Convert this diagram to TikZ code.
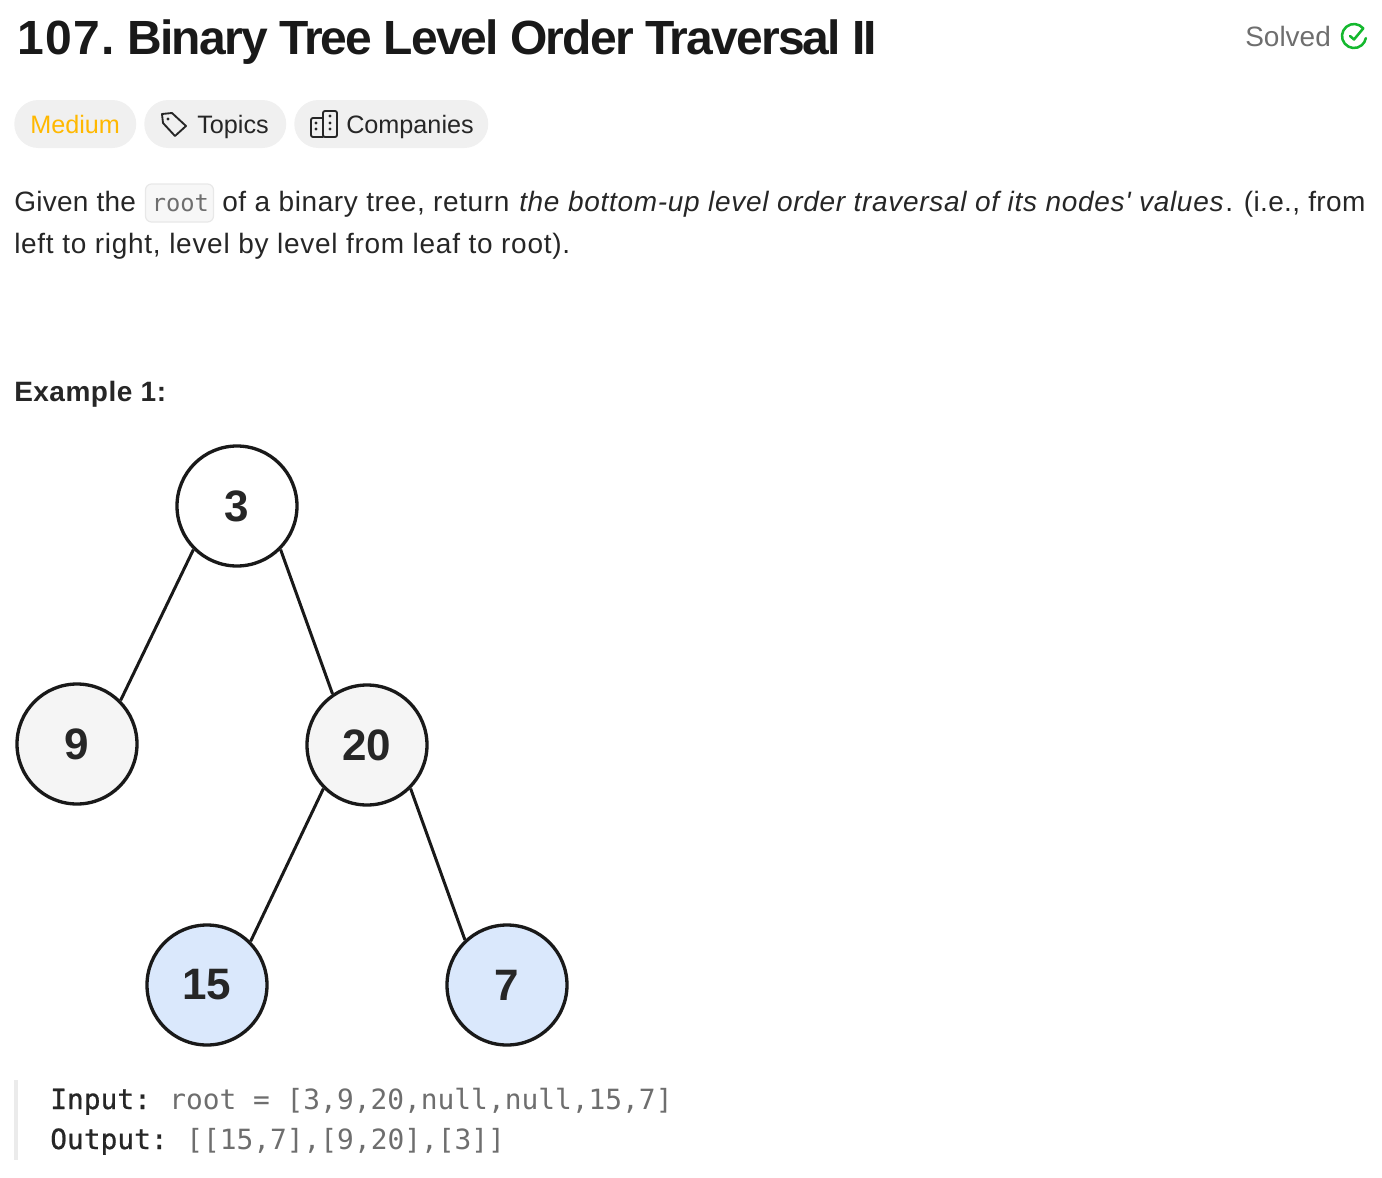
\documentclass[tikz,border=0pt]{standalone}
\usepackage{fontspec}
\setmainfont{Liberation Sans}
\setmonofont{DejaVu Sans Mono}
\newfontfamily\labelfont[FakeBold=0.7]{DejaVu Sans Mono}
\newfontfamily\valuefont{Liberation Sans}
\usetikzlibrary{positioning}
\definecolor{pillGrey}{HTML}{F0F0F0}
\definecolor{textDark}{HTML}{262626}
\definecolor{levelGrey}{HTML}{F5F5F5}
\definecolor{levelBlue}{HTML}{DAE8FC}
\definecolor{codeGrey}{HTML}{6E6E6E}
\definecolor{mediumOrange}{HTML}{FFB800}
\definecolor{solvedGreen}{HTML}{14B82E}
\tikzset{
    treenode/.style={circle, draw=black!90, line width=2.5pt, minimum size=90pt, inner sep=0pt,
        font=\fontsize{33}{36}\selectfont\bfseries, text=black!85},
    treeedge/.style={draw=black!90, line width=2.25pt},
    pill/.style={fill=pillGrey, draw=none, rounded corners=18pt, minimum height=36pt, inner sep=0pt, anchor=west},
    bodytext/.style={anchor=base west, inner sep=0pt, text=textDark, font=\fontsize{21}{25}\selectfont\addfontfeature{LetterSpace=#1}},
    bodytext/.default=2.2,
    pilltext/.style={anchor=base west, inner sep=0pt, text=textDark, font=\fontsize{18.9}{24}\selectfont},
    codetext/.style={anchor=base west, inner sep=0pt, text=codeGrey, font=\fontsize{20.9}{25}\selectfont\ttfamily},
    codelabel/.style={codetext, text=black!85, font=\fontsize{20.9}{25}\selectfont\labelfont},
    iconline/.style={draw=black!85, line width=1.4pt, line join=round, line cap=round}
}
\begin{document}
\begin{tikzpicture}[x=0.75pt,y=-0.75pt]
    \useasboundingbox (0,0) rectangle (1382,1178);

    \node[anchor=base west, inner sep=0pt, text=black!90, font=\fontsize{36}{40}\selectfont\bfseries] (title) at (17,54)
        {{\addfontfeature{LetterSpace=3}107.}\hspace{-3.8pt} \addfontfeature{LetterSpace=-3.9}Binary Tree Level Order Traversal II};
    \node[bodytext, text=codeGrey, font=\fontsize{21}{25}\selectfont] (solved) at (1245,46) {Solved};
    \draw[solvedGreen, line width=1.9pt, line cap=round] (1363.2,28.3) arc (-40:-350:12);
    \draw[solvedGreen, line width=1.9pt, line cap=round, line join=round] (1350,36) -- (1354,39.5) -- (1363.3,28.3);

    \node[pill, minimum width=91.5pt] (medium) at (14,124) {};
    \node[pill, minimum width=106.5pt] (topics) at (144,124) {};
    \node[pill, minimum width=145.5pt] (companies) at (294,124) {};
    \node[pilltext, text=mediumOrange] (mediumtext) at (30,133.5) {Medium};
    \node[pilltext] (topicstext) at (197,133.5) {Topics};
    \node[pilltext] (companiestext) at (346,133.5) {Companies};

    \draw[iconline] (162,114) -- (172,113) -- (186,126) -- (175,136) -- (163,123) -- cycle;
    \fill[black!85] (168,119) circle (1.7);
    \draw[iconline, rounded corners=1.5pt] (323,118) -- (311,118) -- (311,137) -- (323,137);
    \draw[iconline, rounded corners=1.5pt] (323,111) rectangle (337,137);
    \foreach \ypos in {123,129} {
        \fill[black!85] (316,\ypos) circle (1.7);
    }
    \foreach \ypos in {116,123,129} {
        \fill[black!85] (330,\ypos) circle (1.7);
    }

    \node[bodytext=1] (given) at (14,211) {Given the};
    \node[draw=black!9, fill=black!3, line width=0.9pt, rounded corners=4.5pt, minimum width=51pt, minimum height=28.5pt, inner sep=0pt] (rootchip) at (179.5,203) {};
    \node[codetext, font=\fontsize{17.8}{22}\selectfont\ttfamily] (roottext) at (151.5,211) {root};
    \node[bodytext] (ofabinary) at (222,211) {of a binary tree, return};
    \node[bodytext, font=\fontsize{21}{25}\selectfont\valuefont\itshape\addfontfeature{LetterSpace=2.5}] (bottomup) at (519,211) {the bottom-up level order traversal of its nodes' values};
    \node[bodytext=1.3] (iefrom) at (1225,211) {. (i.e., from};
    \node[bodytext=2.6] (lefttoright) at (14,253) {left to right, level by level from leaf to root).};
    \node[bodytext=1.8, font=\fontsize{21}{25}\selectfont\bfseries\addfontfeature{LetterSpace=1.8}] (example) at (14,401) {Example 1:};

    \node[treenode, fill=white] (n3) at (237,506) {3};
    \node[treenode, fill=levelGrey] (n9) at (77,744) {9};
    \node[treenode, fill=levelGrey] (n20) at (367,745) {20};
    \node[treenode, fill=levelBlue] (n15) at (207,985) {15};
    \node[treenode, fill=levelBlue] (n7) at (507,985) {7};

    \draw[treeedge] (n3.225) -- (n9.45);
    \draw[treeedge] (n3.315) -- (n20.124);
    \draw[treeedge] (n20.225) -- (n15.45);
    \draw[treeedge] (n20.315) -- (n7.133);

    \fill[black!8] (14,1080) rectangle (18,1160);
    \node[codelabel] (inputlabel) at (50,1109) {Input:};
    \node[codetext] (inputtext) at (169,1109) {root = [3,9,20,null,null,15,7]};
    \node[codelabel] (outputlabel) at (50,1149) {Output:};
    \node[codetext] (outputtext) at (186,1149) {[[15,7],[9,20],[3]]};
\end{tikzpicture}
\end{document}
